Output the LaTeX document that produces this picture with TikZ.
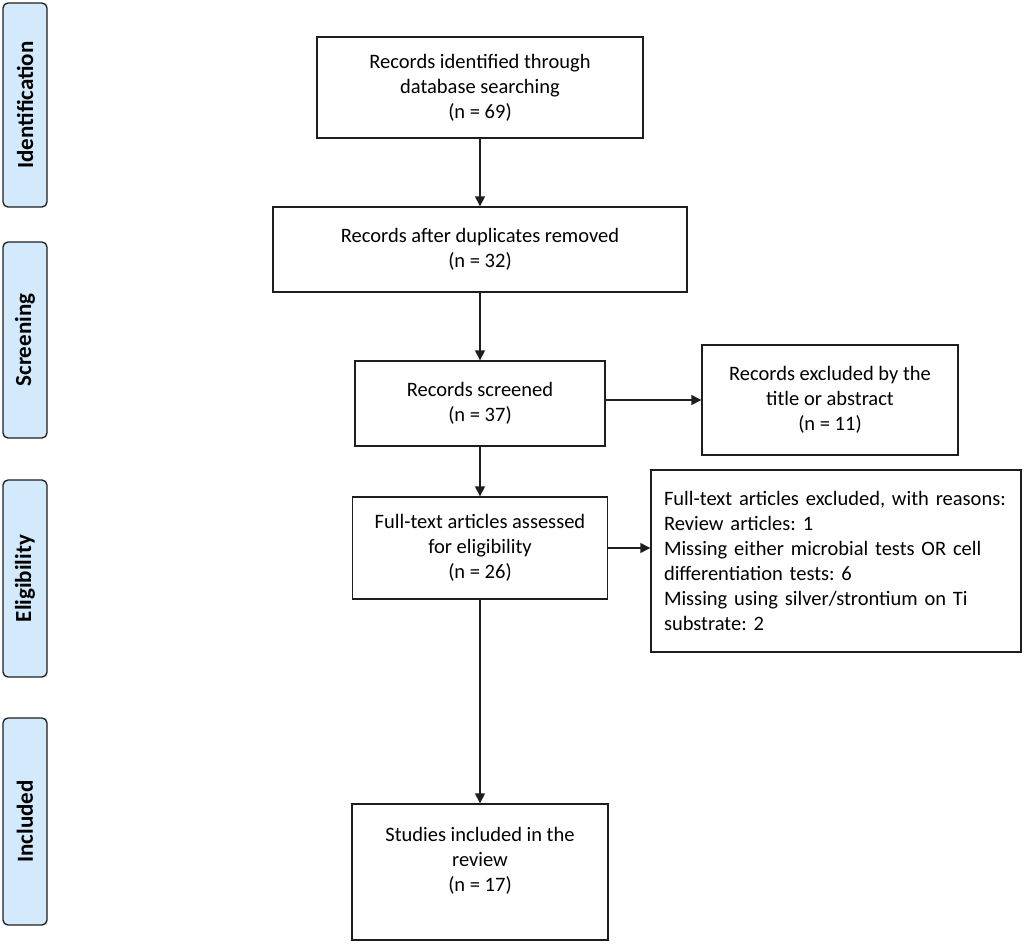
\documentclass[tikz,border=0pt]{standalone}
\usepackage{fontspec}
\setmainfont{Carlito}
\usetikzlibrary{arrows.meta}
\definecolor{sidefill}{RGB}{210,234,251}
\definecolor{linec}{RGB}{30,30,30}
\tikzset{
  x=1pt, y=-1pt,
  box/.style={draw=linec, line width=1.4pt, rectangle, inner sep=0pt, align=center,
    font=\fontsize{20.5}{25}\selectfont},
  side/.style={draw=linec, line width=1.3pt, fill=sidefill, rounded corners=5pt,
    inner sep=0pt, minimum width=44, rotate=90,
    font=\fontsize{23}{26}\selectfont\bfseries},
  conn/.style={draw=linec, line width=1.4pt, -{Triangle[length=10pt,width=10pt]}},
}
\begin{document}
\frenchspacing
\begin{tikzpicture}
\useasboundingbox (0,0) rectangle (1024,943);
% side phase labels
\node[side, minimum height=44, minimum width=204] (sid) at (25,105) {Identification};
\node[side, minimum height=44, minimum width=196] (scr) at (25,340) {Screening};
\node[side, minimum height=44, minimum width=197] (eli) at (25,578.5) {Eligibility};
\node[side, minimum height=44, minimum width=207] (inc) at (25,821.5) {Included};
% main boxes
\node[box, minimum width=326, minimum height=101] (b1) at (480,87.5)
  {Records identified through\\database searching\\(n = 69)};
\node[box, minimum width=414, minimum height=85] (b2) at (480,249.5)
  {Records after duplicates removed\\(n = 32)};
\node[box, minimum width=250, minimum height=85] (b3) at (480,403.5)
  {Records screened\\(n = 37)};
\node[box, minimum width=256, minimum height=110] (b4) at (830,400)
  {Records excluded by the\\title or abstract\\(n = 11)};
\node[box, minimum width=255, minimum height=102] (b5) at (480,548)
  {Full-text articles assessed\\for eligibility\\(n = 26)};
\node[box, minimum width=370, minimum height=182, align=left, text width=344] (b6) at (836,561)
  {Full-text articles excluded, with reasons:\\Review articles: 1\\Missing either microbial tests OR cell\\differentiation tests: 6\\Missing using silver/strontium on Ti\\substrate: 2};
\node[box, minimum width=256, minimum height=136] (b7) at (480,872)
  {Studies included in the\\review\\(n = 17)\\\mbox{}};
% connectors
\draw[conn] (b1) -- (b2);
\draw[conn] (b2) -- (b3);
\draw[conn] (b3.east |- b4.west) -- (b4.west);
\draw[conn] (b3) -- (b5);
\draw[conn] (b5.east) -- (b5.east -| b6.west);
\draw[conn] (b5) -- (b7);
\end{tikzpicture}
\end{document}
